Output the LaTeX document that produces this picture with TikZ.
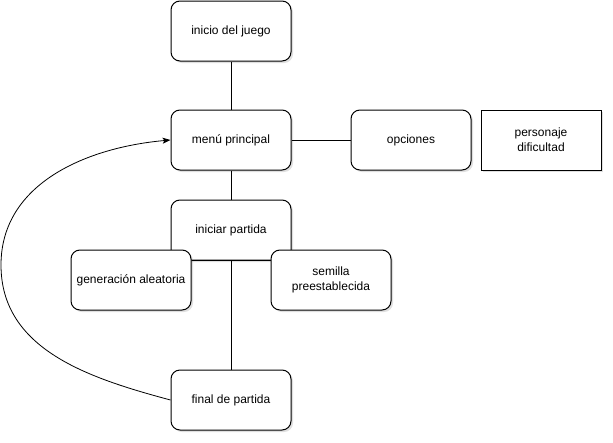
\documentclass[tikz,border=0pt]{standalone}
\usepackage{fontspec}
\setmainfont{Liberation Sans}
\usetikzlibrary{arrows.meta,shadows}

\begin{document}
\begin{tikzpicture}[x=1pt,y=1pt,
    font=\fontsize{12}{15}\selectfont,
    stepbox/.style={draw, line width=1pt, fill=white, rounded corners=9pt,
      minimum width=120pt, minimum height=60pt, inner sep=0pt, align=center,
      drop shadow={shadow xshift=2pt, shadow yshift=-2pt, opacity=0.25}},
    plainbox/.style={stepbox, rounded corners=0pt},
    link/.style={line width=1pt}]
  \useasboundingbox (0,0) rectangle (613,-442);
  \node[stepbox] (inicio) at (231,-31) {inicio del juego};
  \node[stepbox] (menu) at (231,-140) {menú principal};
  \node[stepbox] (opciones) at (411,-140) {opciones};
  \node[plainbox] (ajustes) at (541,-140) {personaje\\dificultad};
  \node[stepbox] (iniciar) at (231,-230) {iniciar partida};
  \node[stepbox] (aleatoria) at (131,-280) {generación aleatoria};
  \node[stepbox] (semilla) at (331,-280) {semilla\\preestablecida};
  \node[stepbox] (final) at (231,-400) {final de partida};
  \coordinate (vuelta) at (1,-265);
  \draw[link] (inicio) -- (menu);
  \draw[link] (menu) -- (opciones);
  \draw[link] (menu) -- (iniciar);
  \draw[link] (aleatoria.east |- iniciar.south) -- (semilla.west |- iniciar.south);
  \draw[link] (iniciar.south) -- (final);
  \draw[line width=0.8pt, -{Stealth[length=8pt,width=6pt,inset=2pt]}]
    (final.west) to[out=165,in=-90] (vuelta) to[out=90,in=185] (menu.west);
\end{tikzpicture}
\end{document}
